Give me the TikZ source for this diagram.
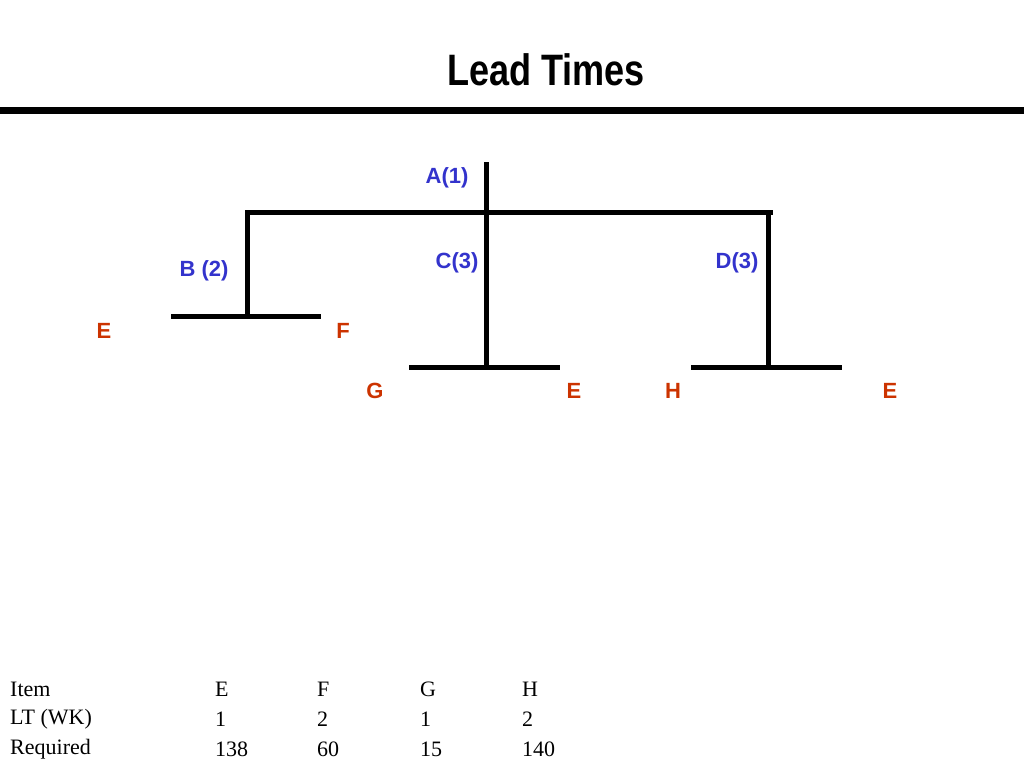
\documentclass[tikz,border=0pt]{standalone}
\usepackage{fontspec}
\setmainfont{Liberation Serif}
\newfontfamily\arial{Liberation Sans}
\definecolor{lblue}{RGB}{51,51,204}
\definecolor{lred}{RGB}{204,51,0}
\begin{document}
\begin{tikzpicture}[x=1pt,y=-1pt,
  tree/.style={line width=5pt},
  bl/.style={font=\arial\bfseries\fontsize{22}{26}\selectfont,text=lblue,inner sep=0pt},
  rd/.style={font=\arial\bfseries\fontsize{22}{26}\selectfont,text=lred,inner sep=0pt},
  tb/.style={font=\fontsize{22}{24}\selectfont,anchor=west,inner sep=0pt}]
\useasboundingbox (0,0) rectangle (1024,768);
\node (title) at (546,70) {\arial\bfseries\fontsize{44}{48}\selectfont\scalebox{0.82}[1]{Lead Times}};
\draw[line width=7pt] (0,110) -- (1024,110);
\coordinate (a0) at (486,162); \coordinate (a1) at (486,367);
\coordinate (h0) at (247,212); \coordinate (h1) at (770,212);
\coordinate (b1) at (247,316); \coordinate (bl) at (171,316); \coordinate (br) at (321,316);
\coordinate (d0) at (768,212); \coordinate (d1) at (768,367);
\coordinate (dl) at (691,367); \coordinate (dr) at (842,367);
\coordinate (cl) at (409,367); \coordinate (cr) at (560,367);
\draw[tree] (a0) -- (a1);
\draw[tree,line cap=rect] (h0) -- (h1);
\draw[tree] (h0) -- (b1);
\draw[tree] (bl) -- (br);
\draw[tree] (d0) -- (d1);
\draw[tree] (dl) -- (dr);
\draw[tree] (cl) -- (cr);
\node[bl] (A) at (447,178) {A(1)};
\node[bl] (B) at (204,271) {B (2)};
\node[bl] (C) at (457,263) {C(3)};
\node[bl] (D) at (737,263) {D(3)};
\node[rd] (E1) at (104,331) {E};
\node[rd] (F) at (343,331) {F};
\node[rd] (G) at (375,391) {G};
\node[rd] (E2) at (574,391) {E};
\node[rd] (H) at (673,391) {H};
\node[rd] (E3) at (890,391) {E};
\foreach \y/\a/\b/\c/\d/\e [count=\i] in {689/Item/E/F/G/H, 719/LT (WK)/1/2/1/2, 749/Required/138/60/15/140}{
  \node[tb] (r\i a) at (10,\y) {\a};
  \node[tb] (r\i b) at (215,\y) {\b};
  \node[tb] (r\i c) at (317,\y) {\c};
  \node[tb] (r\i d) at (420,\y) {\d};
  \node[tb] (r\i e) at (522,\y) {\e};
}
\end{tikzpicture}
\end{document}
